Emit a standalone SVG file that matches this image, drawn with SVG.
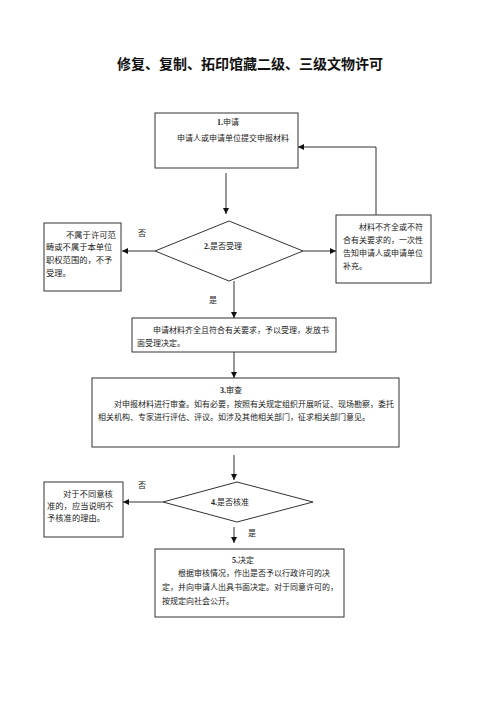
<svg xmlns="http://www.w3.org/2000/svg" width="500" height="716" viewBox="0 0 500 716">
<style>
.bg{fill:#ffffff}
.box{fill:#ffffff;stroke:#333333;stroke-width:1}
.dia{fill:#ffffff;stroke:#333333;stroke-width:1}
.con{fill:none;stroke:#333333;stroke-width:1}
text{font-family:"Liberation Serif","Noto Sans CJK SC",serif;fill:#222222;font-size:8px}
.t{font-size:8px}
.ts{font-size:8.3px}
.title{font-family:"Noto Sans CJK SC",sans-serif;font-size:14px;font-weight:bold;fill:#111111}
.b{font-weight:bold}
</style>
<defs>
<marker id="arr" markerUnits="userSpaceOnUse" markerWidth="6" markerHeight="6" refX="6" refY="3" orient="auto">
<path d="M0,0 L6,3 L0,6 z" fill="#111111"/>
</marker>
</defs>
<rect class="bg" x="0" y="0" width="500" height="716"/>
<text class="title" x="250" y="69" text-anchor="middle">修复、复制、拓印馆藏二级、三级文物许可</text>

<g id="connectors">
<path class="con" d="M226,173 V214" marker-end="url(#arr)"/>
<path class="con" d="M155,251 H122" marker-end="url(#arr)"/>
<path class="con" d="M303,251 H336" marker-end="url(#arr)"/>
<path class="con" d="M376,215 V147 H298" marker-end="url(#arr)"/>
<path class="con" d="M234,281 V318" marker-end="url(#arr)"/>
<path class="con" d="M234,352 V378" marker-end="url(#arr)"/>
<path class="con" d="M234,455 V480" marker-end="url(#arr)"/>
<path class="con" d="M163,502 H123" marker-end="url(#arr)"/>
<path class="con" d="M234,527 V543" marker-end="url(#arr)"/>
<text x="142" y="236" text-anchor="middle">否</text>
<text x="213" y="303" text-anchor="middle">是</text>
<text x="142" y="488" text-anchor="middle">否</text>
<text x="252" y="536" text-anchor="middle">是</text>
</g>

<g id="n1">
<rect class="box" x="155" y="113" width="143" height="55"/>
<text x="217" y="125"><tspan class="b">1.</tspan>申请</text>
<text x="177" y="141">申请人或申请单位提交申报材料</text>
</g>

<g id="n2">
<polygon class="dia" points="229,221 303,251 229,281 155,251"/>
<text x="204" y="249"><tspan class="b">2.</tspan>是否受理</text>
</g>

<g id="n2no">
<rect class="box" x="44" y="223" width="77" height="68"/>
<text class="ts" x="66" y="238">不属于许可范</text>
<text class="ts" x="46" y="250">畴或不属于本单位</text>
<text class="ts" x="46" y="263">职权范围的，不予</text>
<text class="ts" x="46" y="276">受理。</text>
</g>

<g id="n2back">
<rect class="box" x="336" y="215" width="95" height="68"/>
<text x="359" y="230">材料不齐全或不符</text>
<text x="343" y="243">合有关要求的，一次性</text>
<text x="343" y="256">告知申请人或申请单位</text>
<text x="343" y="269">补充。</text>
</g>

<g id="n2yes">
<rect class="box" x="132" y="318" width="204" height="34"/>
<text x="153" y="333">申请材料齐全且符合有关要求，予以受理，发放书</text>
<text x="137" y="346">面受理决定。</text>
</g>

<g id="n3">
<rect class="box" x="92" y="378" width="307" height="69"/>
<text x="220" y="393"><tspan class="b">3.</tspan>审查</text>
<text x="114" y="407">对申报材料进行审查。如有必要，按照有关规定组织开展听证、现场勘察，委托</text>
<text x="98" y="420">相关机构、专家进行评估、评议。如涉及其他相关部门，征求相关部门意见。</text>
</g>

<g id="n4">
<polygon class="dia" points="237,482 313,502 237,522 163,502"/>
<text x="211" y="505"><tspan class="b">4.</tspan>是否核准</text>
</g>

<g id="n4no">
<rect class="box" x="44" y="482" width="79" height="55"/>
<text class="ts" x="63" y="497">对于不同意核</text>
<text class="ts" x="47" y="509">准的，应当说明不</text>
<text class="ts" x="47" y="521">予核准的理由。</text>
</g>

<g id="n5">
<rect class="box" x="155" y="549" width="189" height="68"/>
<text x="232" y="563"><tspan class="b">5.</tspan>决定</text>
<text x="178" y="576">根据审核情况，作出是否予以行政许可的决</text>
<text x="162" y="590">定，并向申请人出具书面决定。对于同意许可的，</text>
<text x="162" y="604">按规定向社会公开。</text>
</g>
</svg>
